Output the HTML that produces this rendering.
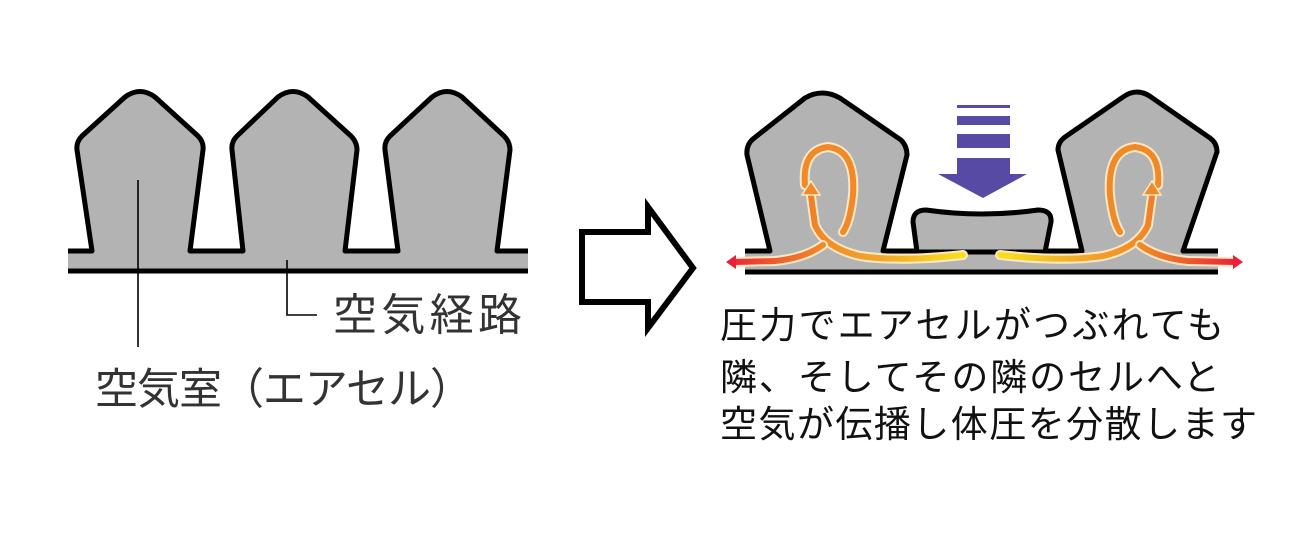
<!DOCTYPE html>
<html><head><meta charset="utf-8"><style>
html,body{margin:0;padding:0;background:#fff;}
svg{display:block;}
text{font-family:"Liberation Sans","Noto Sans CJK JP",sans-serif;}
</style></head><body>
<svg width="1300" height="533" viewBox="0 0 1300 533" xmlns="http://www.w3.org/2000/svg">
<defs>
<linearGradient id="gL" gradientUnits="userSpaceOnUse" x1="725" y1="0" x2="965" y2="0">
<stop offset="0" stop-color="#e8203a"/><stop offset="0.2" stop-color="#ec5a2e"/><stop offset="0.4" stop-color="#f08a28"/><stop offset="0.65" stop-color="#f3a62a"/><stop offset="1" stop-color="#f7e21a"/>
</linearGradient>
</defs>

<!-- LEFT DIAGRAM -->
<rect x="68" y="250" width="460" height="21" fill="#b3b3b3"/>
<g fill="#b3b3b3" stroke="#000" stroke-width="5" stroke-linejoin="round">
<path d="M92,252 L77,150 Q76,142 82,136 L125,97 Q140,86 155,97 L198,136 Q204,142 203,150 L190,252 Z" stroke="none"/>
<path d="M243,252 L232,150 Q231,142 237,136 L278,97 Q293,86 308,97 L351,136 Q357,142 357,150 L345,252 Z" stroke="none"/>
<path d="M398,252 L385,150 Q384,142 390,136 L432,97 Q447,86 462,97 L504,136 Q510,142 510,150 L497,252 Z" stroke="none"/>
<path d="M68,251 L92,251 L77,150 Q76,142 82,136 L125,97 Q140,86 155,97 L198,136 Q204,142 203,150 L190,251 L243,251 L232,150 Q231,142 237,136 L278,97 Q293,86 308,97 L351,136 Q357,142 357,150 L345,251 L398,251 L385,150 Q384,142 390,136 L432,97 Q447,86 462,97 L504,136 Q510,142 510,150 L497,251 L528,251" fill="none"/>
<line x1="68" y1="271" x2="528" y2="271"/>
</g>
<g stroke="#000" stroke-width="1.6" fill="none">
<line x1="138" y1="180" x2="138" y2="347"/>
<polyline points="287,260 287,315 317,315"/>
</g>
<text x="333" y="330" font-size="44" fill="#333" textLength="189" lengthAdjust="spacing">空気経路</text>
<text x="95" y="404" font-size="43" fill="#333" textLength="378" lengthAdjust="spacing">空気室（エアセル）</text>

<!-- BIG ARROW -->
<path d="M582,232 L648,232 L648,207 L693,268 L648,328 L648,302 L582,302 Z" fill="#fff" stroke="#000" stroke-width="6" stroke-linejoin="miter"/>

<!-- RIGHT DIAGRAM -->
<rect x="745" y="250" width="473" height="22" fill="#b3b3b3"/>
<g fill="#b3b3b3" stroke="#000" stroke-width="5" stroke-linejoin="round">
<path d="M770,252 L747,155 Q746,145 753,139 L805,98 Q822,88 840,98 L901,140 Q907,146 907,155 L883,252 Z" stroke="none"/>
<path d="M1082,252 L1058,150 Q1058,142 1065,137 L1123,97 Q1137,87 1151,97 L1210,138 Q1217,143 1217,152 L1183,252 Z" stroke="none"/>
<path d="M745,251 L770,251 L747,155 Q746,145 753,139 L805,98 Q822,88 840,98 L901,140 Q907,146 907,155 L883,251 L916,251" fill="none"/>
<path d="M1045,251 L1082,251 L1058,150 Q1058,142 1065,137 L1123,97 Q1137,87 1151,97 L1210,138 Q1217,143 1217,152 L1183,251 L1218,251" fill="none"/>
<path d="M917,252 L913,222 Q913,210 926,210 Q982,218 1038,210 Q1052,210 1051,222 L1045,252 Z"/>
<line x1="745" y1="272" x2="1218" y2="272"/>
</g>

<!-- purple arrow -->
<g fill="#574aa5">
<rect x="957" y="105" width="53" height="3"/>
<rect x="957" y="116" width="53" height="9"/>
<rect x="957" y="134" width="53" height="14"/>
<rect x="957" y="158" width="53" height="17"/>
<polygon points="938,174 1027,174 983,198"/>
</g>

<!-- flow arrows left -->
<g fill="none" stroke-linecap="round">
<path d="M963,255 Q900,262 860,256 Q825,248 815,225 L811,196" stroke="#fde7c4" stroke-width="10"/>
<path d="M963,255 Q900,262 860,256 Q825,248 815,225 L811,196" stroke="url(#gL)" stroke-width="6"/>
<path d="M805,185 Q802,150 828,147 Q856,150 853,195 Q850,222 843,232" stroke="#fde7c4" stroke-width="10"/>
<path d="M805,185 Q802,150 828,147 Q856,150 853,195 Q850,222 843,232" stroke="#f08a28" stroke-width="6"/>
<path d="M823,245 Q805,258 775,261 L735,262" stroke="#fde7c4" stroke-width="10"/>
<path d="M823,245 Q805,258 775,261 L735,262" stroke="url(#gL)" stroke-width="6"/>
</g>
<polygon points="802,195 811,181 820,195" fill="#f08a28" stroke="#fde7c4" stroke-width="1.5"/>
<polygon points="726,262 736,255 736,269" fill="#e8203a"/>

<!-- flow arrows right (mirror) -->
<g transform="translate(1963,0) scale(-1,1)">
<g fill="none" stroke-linecap="round">
<path d="M963,255 Q900,262 860,256 Q825,248 815,225 L811,196" stroke="#fde7c4" stroke-width="10"/>
<path d="M963,255 Q900,262 860,256 Q825,248 815,225 L811,196" stroke="url(#gL)" stroke-width="6"/>
<path d="M805,185 Q802,150 828,147 Q856,150 853,195 Q850,222 843,232" stroke="#fde7c4" stroke-width="10"/>
<path d="M805,185 Q802,150 828,147 Q856,150 853,195 Q850,222 843,232" stroke="#f08a28" stroke-width="6"/>
<path d="M823,245 Q805,258 775,261 L728,262" stroke="#fde7c4" stroke-width="10"/>
<path d="M823,245 Q805,258 775,261 L728,262" stroke="url(#gL)" stroke-width="6"/>
</g>
<polygon points="802,195 811,181 820,195" fill="#f08a28" stroke="#fde7c4" stroke-width="1.5"/>
<polygon points="720,262 730,255 730,269" fill="#e8203a"/>
</g>

<text x="720" y="338" font-size="37" fill="#111" textLength="504" lengthAdjust="spacing">圧力でエアセルがつぶれても</text>
<text x="720" y="390" font-size="37" fill="#111" textLength="500" lengthAdjust="spacing">隣、そしてその隣のセルへと</text>
<text x="720" y="437" font-size="37" fill="#111" textLength="537" lengthAdjust="spacing">空気が伝播し体圧を分散します</text>
</svg>
</body></html>
